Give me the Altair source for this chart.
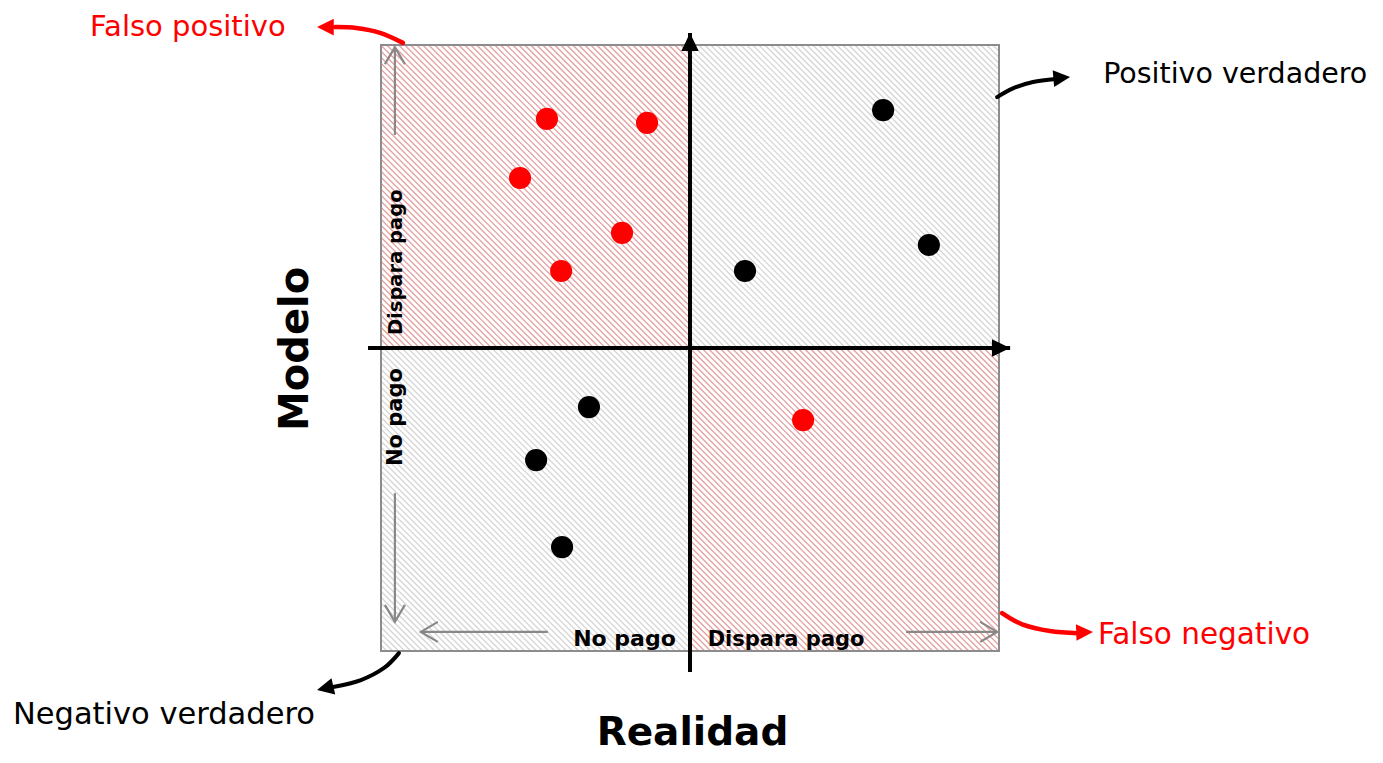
import altair as alt
import numpy as np
import pandas as pd

# ---------------- data (diagram units: the box spans -1..1 on both axes) ----------------
red_x = [-0.463, -0.139, -0.550, -0.220, -0.417, 0.366]
red_y = [0.756, 0.743, 0.561, 0.380, 0.254, -0.238]
black_x = [0.625, 0.773, 0.178, -0.327, -0.498, -0.414]
black_y = [0.785, 0.340, 0.254, -0.195, -0.370, -0.657]

quad_x0 = [-1, 0, -1, 0]
quad_x1 = [0, 1, 0, 1]
quad_y0 = [0, 0, -1, -1]
quad_y1 = [1, 1, 0, 0]
quad_kind = ["Falso positivo", "Positivo verdadero", "Negativo verdadero", "Falso negativo"]
quad_hatch = ["#e4a0a0", "#d6d6d6", "#d6d6d6", "#e4a0a0"]

# inner grey guide arrows (start -> tip)
guide_x = [-0.955, -0.955, -0.460, 0.699]
guide_y = [0.703, -0.479, -0.937, -0.937]
guide_x2 = [-0.955, -0.955, -0.871, 0.994]
guide_y2 = [0.993, -0.904, -0.937, -0.937]
guide_angle = [270, 90, 180, 0]

# main axes (start -> tip)
axis_x = [-1.042, 0.0]
axis_y = [0.0, -1.069]
axis_x2 = [1.036, 0.0]
axis_y2 = [0.0, 1.040]
axis_angle = [0, 270]

# curved callout arrows
curve_id = ["FP"] * 4 + ["TP"] * 4 + ["FN"] * 4 + ["TN"] * 4
curve_x = [-0.929, -1.003, -1.080, -1.149,
           0.994, 1.045, 1.110, 1.184,
           1.010, 1.075, 1.165, 1.256,
           -0.942, -0.990, -1.065, -1.155]
curve_y = [1.007, 1.040, 1.056, 1.059,
           0.828, 0.857, 0.878, 0.888,
           -0.875, -0.912, -0.934, -0.941,
           -1.007, -1.056, -1.096, -1.119]
curve_color = {"FP": "#ff0000", "TP": "#000000", "FN": "#ff0000", "TN": "#000000"}
head_id = ["FP", "TP", "FN", "TN"]
head_x = [-1.207, 1.230, 1.304, -1.207]
head_y = [1.059, 0.894, -0.937, -1.129]
head_angle = [180, 355, 358, 167]

# texts
lab_text = ["Positivo verdadero", "Falso negativo", "Negativo verdadero"]
lab_x = [1.337, 1.320, -2.191]
lab_y = [0.903, -0.946, -1.211]
lab_size = [28.5, 29.5, 30.5]
lab_color = ["#000000", "#ff0000", "#000000"]

fp_text = ["Falso positivo"]
fp_x = [-1.625]
fp_y = [1.059]

bold_text = ["Modelo", "Realidad", "Dispara pago", "No pago", "No pago", "Dispara pago"]
bold_x = [-1.236, 0.008, -0.932, -0.932, -0.212, 0.311]
bold_y = [-0.003, -1.310, 0.283, -0.228, -0.983, -0.983]
bold_size = [40, 39, 19.5, 21, 22, 21]
bold_angle = [270, 0, 270, 270, 0, 0]

# ---------------- scales ----------------
xs = alt.Scale(domain=[-2.2071, 2.2168], nice=False, zero=False)
ys = alt.Scale(domain=[-1.3432, 1.1221], nice=False, zero=False)
X = lambda f: alt.X(f, scale=xs, axis=None)
Y = lambda f: alt.Y(f, scale=ys, axis=None)

# ---------------- hatch pattern (45° diagonal lines on screen) ----------------
K = 309 / 303
step = 6 / 303
bs = np.arange(-1 - K - 0.1, 1 + K + 0.1, step)
rows = []
for q in range(4):
    x0, x1, y0, y1 = quad_x0[q], quad_x1[q], quad_y0[q], quad_y1[q]
    for b in bs:
        xa = max(x0, (b - y1) / K)
        xb = min(x1, (b - y0) / K)
        if xb - xa > 1e-6:
            rows.append(dict(x=xa, y=b - K * xa, x2=xb, y2=b - K * xb, c=quad_hatch[q]))
hatch_df = pd.DataFrame(rows)

hatch = alt.Chart(hatch_df).mark_rule(strokeWidth=1.3).encode(
    x=X("x:Q"), y=Y("y:Q"), x2="x2:Q", y2="y2:Q", color=alt.Color("c:N", scale=None)
)

box_df = pd.DataFrame({"x": [min(quad_x0)], "x2": [max(quad_x1)], "y": [min(quad_y0)], "y2": [max(quad_y1)]})
box = alt.Chart(box_df).mark_rect(filled=False, stroke="#8c8c8c", strokeWidth=2).encode(
    x=X("x:Q"), x2="x2:Q", y=Y("y:Q"), y2="y2:Q"
)

guide_df = pd.DataFrame({"x": guide_x, "y": guide_y, "x2": guide_x2, "y2": guide_y2, "a": guide_angle})
guide_shaft = alt.Chart(guide_df).mark_rule(stroke="#888888", strokeWidth=2.2).encode(
    x=X("x:Q"), y=Y("y:Q"), x2="x2:Q", y2="y2:Q"
)
guide_head = alt.Chart(guide_df).mark_point(
    shape="M -1.7 -1 L 0 0 L -1.7 1", filled=False, stroke="#888888", strokeWidth=2.2,
    size=400, opacity=1
).encode(x=X("x2:Q"), y=Y("y2:Q"), angle=alt.Angle("a:Q", scale=None))

axis_df = pd.DataFrame({"x": axis_x, "y": axis_y, "x2": axis_x2, "y2": axis_y2, "a": axis_angle})
axis_shaft = alt.Chart(axis_df).mark_rule(stroke="#000000", strokeWidth=4).encode(
    x=X("x:Q"), y=Y("y:Q"), x2="x2:Q", y2="y2:Q"
)
axis_head = alt.Chart(axis_df).mark_point(
    shape="M -2.1 -1 L 0 0 L -2.1 1 Z", filled=True, fill="#000000", size=300, opacity=1
).encode(x=X("x2:Q"), y=Y("y2:Q"), angle=alt.Angle("a:Q", scale=None))

pts_df = pd.DataFrame({
    "x": red_x + black_x,
    "y": red_y + black_y,
    "c": ["#ff0000"] * len(red_x) + ["#000000"] * len(black_x),
})
points = alt.Chart(pts_df).mark_circle(size=490, opacity=1).encode(
    x=X("x:Q"), y=Y("y:Q"), color=alt.Color("c:N", scale=None)
)

curve_df = pd.DataFrame({"id": curve_id, "x": curve_x, "y": curve_y, "o": list(range(len(curve_id)))})
curve_layers = []
for cid in ["FP", "TP", "FN", "TN"]:
    sub = curve_df[curve_df["id"] == cid]
    curve_layers.append(
        alt.Chart(sub).mark_line(interpolate="cardinal", strokeWidth=4.5 if curve_color[cid] == "#ff0000" else 4,
                                 color=curve_color[cid], strokeCap="round").encode(
            x=X("x:Q"), y=Y("y:Q"), order="o:Q"
        )
    )
head_df = pd.DataFrame({"id": head_id, "x": head_x, "y": head_y, "a": head_angle})
head_df["c"] = head_df["id"].map(curve_color)
curve_heads = alt.Chart(head_df).mark_point(
    shape="M -2.0 -1 L 0 0 L -2.0 1 Z", filled=True, size=280, opacity=1
).encode(x=X("x:Q"), y=Y("y:Q"), angle=alt.Angle("a:Q", scale=None),
         color=alt.Color("c:N", scale=None))

lab_df = pd.DataFrame({"t": lab_text, "x": lab_x, "y": lab_y, "s": lab_size, "c": lab_color})
labels = alt.Chart(lab_df).mark_text(align="left", baseline="middle", font="DejaVu Sans").encode(
    x=X("x:Q"), y=Y("y:Q"), text="t:N", size=alt.Size("s:Q", scale=None),
    color=alt.Color("c:N", scale=None)
)
fp_df = pd.DataFrame({"t": fp_text, "x": fp_x, "y": fp_y})
fp_label = alt.Chart(fp_df).mark_text(align="center", baseline="middle", font="DejaVu Sans",
                                      fontSize=29, color="#ff0000").encode(
    x=X("x:Q"), y=Y("y:Q"), text="t:N"
)
bold_df = pd.DataFrame({"t": bold_text, "x": bold_x, "y": bold_y, "s": bold_size, "a": bold_angle})
bold_labels = alt.Chart(bold_df).mark_text(align="center", baseline="alphabetic", font="DejaVu Sans",
                                           fontWeight="bold", color="#000000").encode(
    x=X("x:Q"), y=Y("y:Q"), text="t:N", size=alt.Size("s:Q", scale=None),
    angle=alt.Angle("a:Q", scale=None)
)

chart = alt.layer(
    hatch, box, guide_shaft, guide_head, axis_shaft, axis_head, points,
    *curve_layers, curve_heads, labels, fp_label, bold_labels
).properties(
    width=1367, height=747, padding=0,
    autosize=alt.AutoSizeParams(type="none")
).configure_view(stroke=None)

chart.save("out.html", embed_options={"renderer": "svg", "actions": False})
